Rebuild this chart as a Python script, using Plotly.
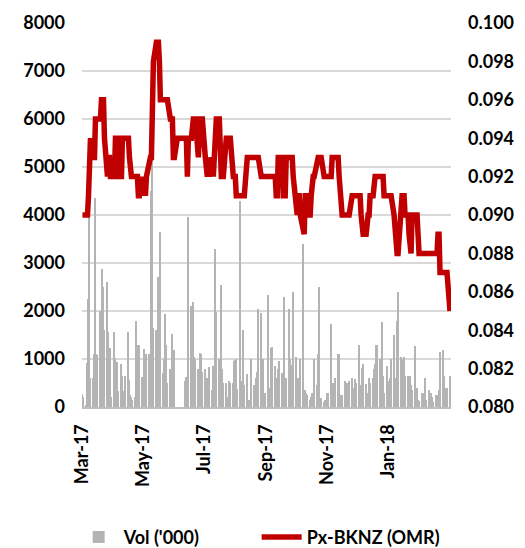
import pandas as pd
import plotly.graph_objects as go

# Daily volume ('000), trading days Sun-Thu from 1 Mar 2017; one row per week
vol = [
    280, 200,
    40, 920, 2250, 4700, 600,
    600, 1100, 4350, 1100, 1080,
    2000, 2000, 2870, 2500, 1600,
    2600, 1560, 1200, 1230, 200,
    1560, 1000, 200, 930, 330,
    900, 640, 150, 330, 640,
    1560, 560, 250, 200, 150,
    200, 1800, 1300, 300, 1290,
    630, 500, 1200, 640, 1100,
    1100, 300, 4500, 5200, 1650,
    1600, 900, 2700, 800, 3650,
    700, 1000, 1940, 1300, 500,
    800, 500, 1520, 1150, 1180,
    0, 0, 0, 0, 0,
    0, 550, 620, 350, 3950,
    2100, 1900, 2180, 1050, 1000,
    800, 500, 1130, 1100, 720,
    800, 380, 600, 300, 840,
    350, 850, 700, 3300, 1970,
    1000, 900, 2550, 800, 500,
    500, 200, 150, 550, 500,
    500, 950, 980, 1000, 370,
    4300, 400, 550, 1600, 450,
    680, 100, 150, 150, 1000,
    450, 450, 600, 720, 2050,
    1950, 600, 1000, 300, 300,
    2330, 300, 400, 1230, 1250,
    850, 550, 600, 800, 950,
    700, 350, 2300, 150, 600,
    2040, 1000, 400, 880, 2400,
    1050, 500, 600, 550, 1000,
    3400, 250, 350, 300, 250,
    150, 200, 300, 250, 1000,
    450, 1100, 2500, 150, 180,
    100, 150, 150, 300, 300,
    1720, 250, 500, 150, 600,
    1100, 1100, 250, 250, 250,
    540, 500, 500, 500, 550,
    600, 300, 400, 580, 500,
    1300, 450, 400, 820, 900,
    480, 300, 250, 600, 500,
    600, 800, 900, 1300, 1300,
    1000, 950, 1780, 650, 300,
    850, 550, 400, 600, 1000,
    1500, 500, 600, 1800, 2400,
    1050, 1000, 700, 1050, 650,
    650, 320, 650, 450, 350,
    1270, 400, 400, 150, 120,
    300, 300, 150, 600, 150,
    350, 250, 300, 200, 100,
    250, 150, 250, 350, 1150,
    1180, 650, 400, 200, 400,
    650,
]

# Closing price BKNZ (OMR), same trading days
px_bknz = [
    0.090, 0.090,
    0.090, 0.090, 0.091, 0.094, 0.094,
    0.093, 0.093, 0.095, 0.095, 0.095,
    0.095, 0.096, 0.096, 0.096, 0.094,
    0.092, 0.093, 0.093, 0.092, 0.092,
    0.092, 0.094, 0.094, 0.094, 0.092,
    0.092, 0.094, 0.094, 0.094, 0.094,
    0.094, 0.093, 0.092, 0.092, 0.092,
    0.092, 0.092, 0.092, 0.091, 0.091,
    0.092, 0.091, 0.092, 0.091, 0.092,
    0.093, 0.093, 0.093, 0.098, 0.098,
    0.099, 0.099, 0.099, 0.098, 0.096,
    0.096, 0.096, 0.096, 0.096, 0.096,
    0.095, 0.095, 0.095, 0.093, 0.093,
    0.094, 0.094, 0.094, 0.094, 0.094,
    0.094, 0.094, 0.094, 0.092, 0.094,
    0.094, 0.095, 0.095, 0.095, 0.095,
    0.093, 0.095, 0.095, 0.095, 0.095,
    0.093, 0.092, 0.092, 0.093, 0.092,
    0.093, 0.092, 0.093, 0.095, 0.095,
    0.095, 0.093, 0.092, 0.092, 0.092,
    0.094, 0.094, 0.094, 0.094, 0.094,
    0.092, 0.092, 0.092, 0.091, 0.091,
    0.091, 0.091, 0.091, 0.091, 0.091,
    0.093, 0.093, 0.093, 0.093, 0.093,
    0.093, 0.093, 0.093, 0.093, 0.093,
    0.092, 0.092, 0.092, 0.092, 0.092,
    0.092, 0.092, 0.092, 0.092, 0.092,
    0.092, 0.091, 0.091, 0.093, 0.093,
    0.093, 0.091, 0.091, 0.091, 0.093,
    0.093, 0.093, 0.093, 0.093, 0.092,
    0.090, 0.090, 0.091, 0.091, 0.090,
    0.089, 0.089, 0.091, 0.091, 0.090,
    0.090, 0.091, 0.092, 0.092, 0.092,
    0.093, 0.093, 0.093, 0.093, 0.093,
    0.092, 0.092, 0.092, 0.092, 0.092,
    0.092, 0.093, 0.093, 0.093, 0.093,
    0.093, 0.092, 0.091, 0.090, 0.090,
    0.090, 0.090, 0.090, 0.090, 0.090,
    0.091, 0.091, 0.091, 0.091, 0.091,
    0.091, 0.091, 0.090, 0.089, 0.089,
    0.089, 0.090, 0.090, 0.090, 0.091,
    0.091, 0.092, 0.092, 0.092, 0.092,
    0.092, 0.092, 0.092, 0.092, 0.091,
    0.091, 0.091, 0.091, 0.091, 0.091,
    0.090, 0.089, 0.088, 0.088, 0.088,
    0.091, 0.091, 0.091, 0.091, 0.090,
    0.090, 0.089, 0.088, 0.088, 0.090,
    0.090, 0.090, 0.090, 0.089, 0.088,
    0.088, 0.088, 0.088, 0.088, 0.088,
    0.088, 0.088, 0.088, 0.088, 0.088,
    0.088, 0.088, 0.089, 0.089, 0.087,
    0.087, 0.087, 0.087, 0.087, 0.087,
    0.085,
]

tick_dates = ["2017-03-01", "2017-05-01", "2017-07-01",
              "2017-09-01", "2017-11-01", "2018-01-01"]

dates = pd.bdate_range(start="2017-03-01", periods=len(vol), freq="C",
                       weekmask="Sun Mon Tue Wed Thu")

FONT = "Lato"
tick_font = dict(family=FONT, size=18, color="#000000", weight="bold")

fig = go.Figure()
fig.add_trace(go.Bar(
    x=dates, y=vol, name="Vol ('000)",
    marker_color="#b4b4b4", marker_line_width=0,
    width=86400000,
))
fig.add_trace(go.Scatter(
    x=dates, y=px_bknz[:len(dates)], name="Px-BKNZ (OMR)", yaxis="y2",
    mode="lines", line=dict(color="#c00000", width=5.5),
))

# the page adds an 8px body margin, so the figure is drawn 8px smaller
fig.update_layout(
    width=517, height=540,
    margin=dict(l=74, r=74, t=15, b=141, autoexpand=False),
    paper_bgcolor="white", plot_bgcolor="white",
    bargap=0,
    showlegend=True,
    legend=dict(
        orientation="h", xref="container", x=0.127, xanchor="left",
        yref="container", y=0.02, yanchor="middle",
        font=dict(family=FONT, size=18, color="#000000", weight="bold"),
        itemwidth=40, entrywidth=128,
    ),
    xaxis=dict(
        type="date", automargin=False,
        range=["2017-02-28 12:00", "2018-03-05"],
        tickvals=tick_dates, tickformat="%b-%y",
        tickangle=-90, tickfont=tick_font, ticklabelstandoff=8,
        showgrid=False, showline=True, linecolor="#bfbfbf", linewidth=2,
        ticks="",
    ),
    yaxis=dict(
        range=[0, 8000], dtick=1000, tickfont=tick_font, automargin=False,
        showgrid=True, gridcolor="#d9d9d9", gridwidth=1.5,
        zeroline=False, ticks="", ticklabelstandoff=16,
    ),
    yaxis2=dict(
        overlaying="y", side="right", automargin=False,
        range=[0.080, 0.100], dtick=0.002, tickformat=".3f",
        tickfont=tick_font, showgrid=False, zeroline=False,
        ticks="", ticklabelstandoff=16,
    ),
)

fig.write_html("out.html")
